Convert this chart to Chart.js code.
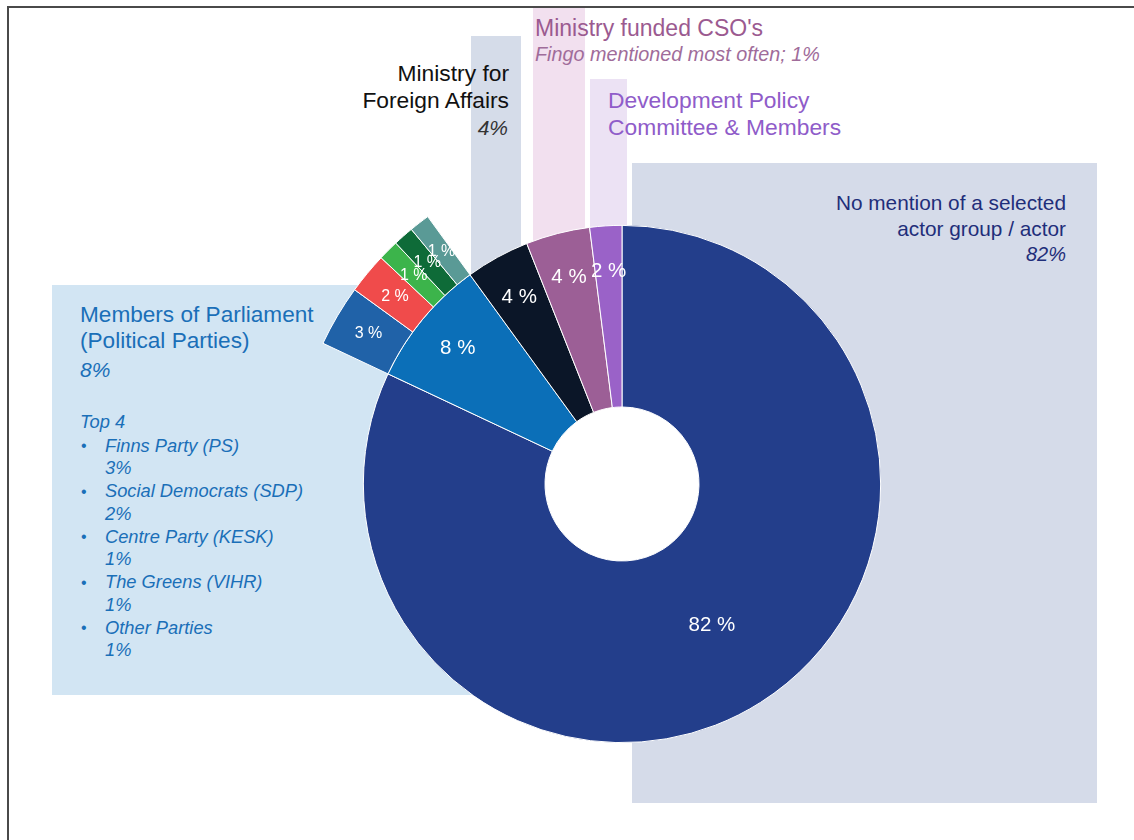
<!DOCTYPE html>
<html>
<head>
<meta charset="utf-8">
<script src="https://cdn.jsdelivr.net/npm/chart.js@4"></script>
<style>
  body { margin: 0; background: #fff; font-family: "Liberation Sans", Arial, sans-serif; }
  #page { position: relative; width: 1134px; height: 840px; overflow: hidden; }
  #frame { position: absolute; left: 7px; top: 6px; right: -10px; bottom: -10px;
           border-top: 2px solid #4a4a4a; border-left: 2px solid #4a4a4a; }
  .box { position: absolute; }
  .t { position: absolute; white-space: nowrap; line-height: 1; }
  canvas { position: absolute; left: 0; top: 0; }
</style>
</head>
<body>
<div id="page">
  <div class="box" style="left:52px;top:285px;width:520px;height:410px;background:#d2e5f3"></div>
  <div class="box" style="left:471px;top:36px;width:50px;height:300px;background:#d5dce9"></div>
  <div class="box" style="left:533px;top:8px;width:52px;height:300px;background:#f2e0ef"></div>
  <div class="box" style="left:590px;top:79px;width:37px;height:260px;background:#ece2f4"></div>
  <div class="box" style="left:632px;top:163px;width:465px;height:640px;background:#d5dbe9"></div>
  <div id="frame"></div>
  <div id="texts"></div>
  <canvas id="chart" width="1134" height="840"></canvas>
</div>
<script>
// main ring, clockwise from 12 o'clock
const mainLabels = ['No mention of a selected actor group / actor', 'Members of Parliament (Political Parties)',
  'Ministry for Foreign Affairs', "Ministry funded CSO's", 'Development Policy Committee & Members'];
const mainValues = [82, 8, 4, 4, 2];
const mainColors = ['#233e8b', '#0b6fb8', '#0b1628', '#9c5f96', '#9a62c8'];

// breakdown of the Members of Parliament slice
const partyLabels = ['Finns Party (PS)', 'Social Democrats (SDP)', 'Centre Party (KESK)', 'The Greens (VIHR)', 'Other Parties'];
const partyValues = [3, 2, 1, 1, 1];
const partyColors = ['#2062a8', '#f04b4b', '#3cb44b', '#0e6b38', '#5a9a96'];

// annotation texts: [text, x, baseline, size, color, italic, align]
const notes = [
  ["Ministry funded CSO's", 535, 36, 23, '#9b5a90', false, 'left'],
  ['Fingo mentioned most often; 1%', 535, 62, 19.8, '#a06c9a', true, 'left'],
  ['Ministry for', 509, 81, 22.8, '#111111', false, 'right'],
  ['Foreign Affairs', 509, 108, 22.8, '#111111', false, 'right'],
  ['4%', 508, 135, 21, '#333333', true, 'right'],
  ['Development Policy', 608, 108, 22.8, '#8f5cc9', false, 'left'],
  ['Committee & Members', 608, 135, 22.8, '#8f5cc9', false, 'left'],
  ['No mention of a selected', 1066, 211, 20.8, '#1f2e7a', false, 'right'],
  ['actor group / actor', 1066, 237, 20.8, '#1f2e7a', false, 'right'],
  ['82%', 1066, 261, 20, '#1f2e7a', true, 'right'],
  ['Members of Parliament', 80, 323, 22.6, '#1a6fb8', false, 'left'],
  ['(Political Parties)', 80, 349, 22.6, '#1a6fb8', false, 'left'],
  ['8%', 80, 377, 21, '#1a6fb8', true, 'left'],
  ['Top 4', 80, 428, 18.3, '#1a6fb8', true, 'left']
];

const texts = document.getElementById('texts');
function addText(text, x, baseline, size, color, italic, align) {
  const d = document.createElement('div');
  d.className = 't';
  d.textContent = text;
  d.style.fontSize = size + 'px';
  d.style.color = color;
  d.style.top = (baseline - 0.8465 * size) + 'px';
  if (italic) d.style.fontStyle = 'italic';
  if (align === 'right') d.style.right = (1134 - x) + 'px';
  else d.style.left = x + 'px';
  texts.appendChild(d);
}
notes.forEach(n => addText(...n));

// party list with bullets
partyLabels.forEach((name, i) => {
  const base = 452 + i * 45.5;
  addText('•', 81, base, 16, '#1a6fb8', false, 'left');
  addText(name, 105, base, 18.3, '#1a6fb8', true, 'left');
  addText(partyValues[i] + '%', 105, base + 22.5, 18.3, '#1a6fb8', true, 'left');
});

const restValue = mainValues.slice(2).reduce((a, b) => a + b, 0);
const outerValues = [mainValues[0], ...partyValues, restValue];

const holePlugin = {
  id: 'hole',
  beforeDatasetsDraw(chart) {
    const meta = chart.getDatasetMeta(1);
    const arc = meta.data[0];
    const ctx = chart.ctx;
    ctx.save();
    ctx.fillStyle = '#ffffff';
    ctx.beginPath();
    ctx.arc(arc.x, arc.y, arc.innerRadius, 0, Math.PI * 2);
    ctx.fill();
    ctx.restore();
  }
};

const labelPlugin = {
  id: 'sliceLabels',
  afterDatasetsDraw(chart) {
    const ctx = chart.ctx;
    ctx.save();
    ctx.fillStyle = '#ffffff';
    ctx.textAlign = 'center';
    ctx.textBaseline = 'middle';
    chart.data.datasets.forEach((ds, i) => {
      const meta = chart.getDatasetMeta(i);
      ctx.font = ds.labelSize + 'px "Liberation Sans", Arial, sans-serif';
      meta.data.forEach((arc, j) => {
        if (!ds.pct[j]) return;
        const mid = (arc.startAngle + arc.endAngle) / 2;
        const frac = ds.data[j] > 10 ? 0.5 : ds.labelFrac;
        const r = arc.innerRadius + (arc.outerRadius - arc.innerRadius) * frac;
        ctx.fillText(ds.data[j] + ' %', arc.x + Math.cos(mid) * r, arc.y + Math.sin(mid) * r);
      });
    });
    ctx.restore();
  }
};

new Chart(document.getElementById('chart'), {
  type: 'doughnut',
  data: {
    labels: mainLabels,
    datasets: [
      {
        data: outerValues,
        backgroundColor: ['rgba(0,0,0,0)', ...partyColors, 'rgba(0,0,0,0)'],
        borderColor: '#ffffff',
        borderWidth: [0, 1, 1, 1, 1, 1, 0],
        weight: 72,
        pct: [false, true, true, true, true, true, false],
        labelSize: 16,
        labelFrac: 0.5
      },
      {
        data: mainValues,
        backgroundColor: mainColors,
        borderColor: '#ffffff',
        borderWidth: 1,
        weight: 182,
        pct: [true, true, true, true, true],
        labelSize: 20.5,
        labelFrac: 0.75
      }
    ]
  },
  options: {
    responsive: false,
    animation: false,
    cutout: '23.3%',
    layout: { padding: { left: 291, right: 181, top: 153, bottom: 25 } },
    plugins: {
      legend: { display: false },
      tooltip: { enabled: false }
    }
  },
  plugins: [holePlugin, labelPlugin]
});
</script>
</body>
</html>
